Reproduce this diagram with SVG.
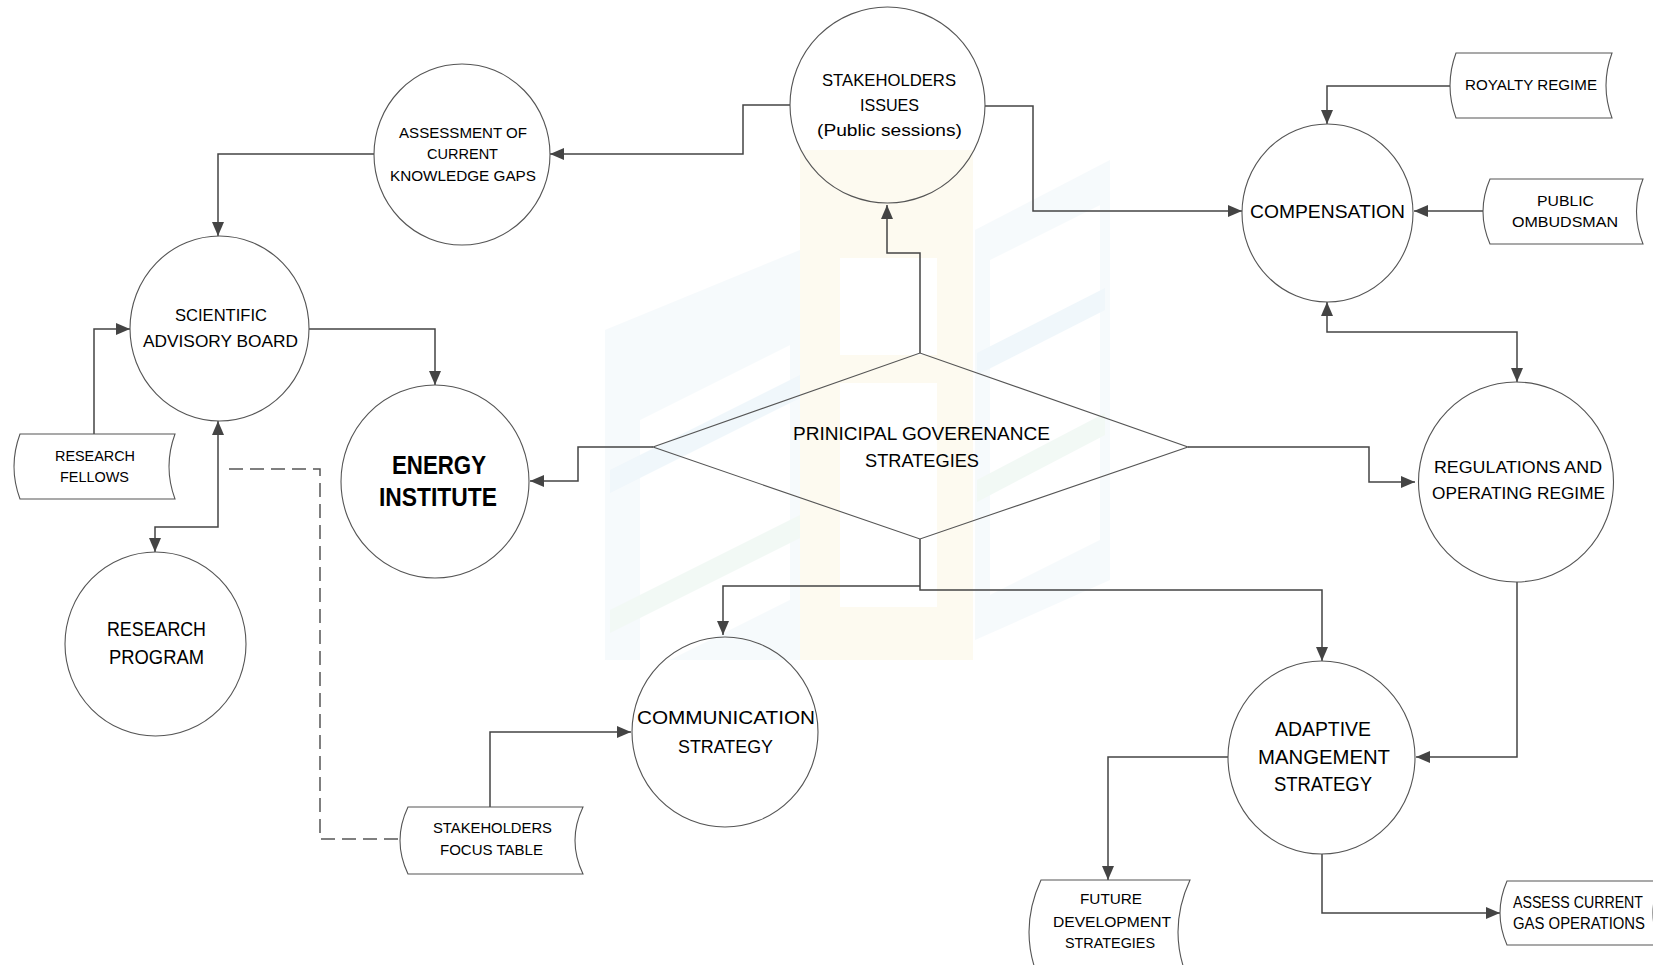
<svg xmlns="http://www.w3.org/2000/svg" width="1653" height="965" viewBox="0 0 1653 965">
<style>
.n{fill:none;stroke:#555;stroke-width:1.1}
.c{fill:none;stroke:#444;stroke-width:1.5}
.d{fill:none;stroke:#555;stroke-width:1.5;stroke-dasharray:14 7}
.t{font-family:"Liberation Sans",Arial,sans-serif;fill:#000;text-anchor:middle}
.b{font-weight:bold}
</style>
<defs>
<marker id="ah" markerUnits="userSpaceOnUse" markerWidth="14" markerHeight="12" viewBox="0 0 14 12" refX="14" refY="6" orient="auto-start-reverse">
<path d="M0,0 L14,6 L0,12 z" fill="#444"/>
</marker>
</defs>
<rect width="1653" height="965" fill="#fff"/>
<g id="watermark" opacity="0.3">
<rect x="800" y="150" width="173" height="510" fill="#fbf1cf"/>
<rect x="840" y="258" width="97" height="97" fill="#fff"/>
<rect x="840" y="383" width="97" height="224" fill="#fff"/>
<polygon points="605,330 800,250 800,660 605,660" fill="#e4eff6"/>
<polygon points="640,420 790,345 790,600 640,675" fill="#fff"/>
<polygon points="610,470 800,375 800,398 610,493" fill="#cfe6f4"/>
<polygon points="610,610 800,515 800,538 610,633" fill="#d6ecdf"/>
<polygon points="975,230 1110,160 1110,580 975,640" fill="#e4eff6"/>
<polygon points="990,260 1100,205 1100,540 990,595" fill="#fff"/>
<polygon points="977,353 1105,288 1105,310 977,375" fill="#cfe6f4"/>
<polygon points="977,480 1105,413 1105,435 977,502" fill="#d6ecdf"/>
</g>
<g id="connectors">
<path class="c" d="M790,105 H743 V154 H550" marker-end="url(#ah)"/>
<path class="c" d="M985,106 H1033 V211 H1242" marker-end="url(#ah)"/>
<path class="c" d="M374,154 H218 V236" marker-end="url(#ah)"/>
<path class="c" d="M309,329 H435 V385" marker-end="url(#ah)"/>
<path class="c" d="M94,434 V329 H130" marker-end="url(#ah)"/>
<path class="c" d="M218,421 V527 H155 V552" marker-start="url(#ah)" marker-end="url(#ah)"/>
<path class="d" d="M229,469 H320 V839 H400"/>
<path class="c" d="M920,353 V253 H887 V205" marker-end="url(#ah)"/>
<path class="c" d="M653,447 H578 V481 H530" marker-end="url(#ah)"/>
<path class="c" d="M1188,447 H1369 V482 H1415" marker-end="url(#ah)"/>
<path class="c" d="M920,586 H723 V635" marker-end="url(#ah)"/>
<path class="c" d="M920,539 V590 H1322 V661" marker-end="url(#ah)"/>
<path class="c" d="M1327,302 V332 H1517 V382" marker-start="url(#ah)" marker-end="url(#ah)"/>
<path class="c" d="M1450,86 H1327 V124" marker-end="url(#ah)"/>
<path class="c" d="M1483,211 H1414" marker-end="url(#ah)"/>
<path class="c" d="M1517,582 V757 H1416" marker-end="url(#ah)"/>
<path class="c" d="M1228,757 H1108 V880" marker-end="url(#ah)"/>
<path class="c" d="M1322,854 V913 H1500" marker-end="url(#ah)"/>
<path class="c" d="M490,807 V732 H631" marker-end="url(#ah)"/>
</g>
<g id="assessment">
<ellipse class="n" cx="462" cy="154.5" rx="88" ry="90.5"/>
<text class="t" x="463" y="138.2" font-size="14.5" textLength="128" lengthAdjust="spacingAndGlyphs">ASSESSMENT OF</text>
<text class="t" x="462.5" y="159.2" font-size="14.5" textLength="71" lengthAdjust="spacingAndGlyphs">CURRENT</text>
<text class="t" x="463" y="181.2" font-size="14.5" textLength="146" lengthAdjust="spacingAndGlyphs">KNOWLEDGE GAPS</text>
</g>
<g id="scientific">
<ellipse class="n" cx="219.5" cy="328.5" rx="89.5" ry="92.5"/>
<text class="t" x="221" y="321.1" font-size="17" textLength="92" lengthAdjust="spacingAndGlyphs">SCIENTIFIC</text>
<text class="t" x="220.5" y="347.1" font-size="17" textLength="155" lengthAdjust="spacingAndGlyphs">ADVISORY BOARD</text>
</g>
<g id="research-program">
<ellipse class="n" cx="155.5" cy="644" rx="90.5" ry="92"/>
<text class="t" x="156.5" y="635.6" font-size="21" textLength="99" lengthAdjust="spacingAndGlyphs">RESEARCH</text>
<text class="t" x="156.5" y="663.6" font-size="21" textLength="95" lengthAdjust="spacingAndGlyphs">PROGRAM</text>
</g>
<g id="energy-institute">
<ellipse class="n" cx="435" cy="481.5" rx="94" ry="96.5"/>
<text class="t b" x="439" y="474" font-size="25" textLength="94" lengthAdjust="spacingAndGlyphs">ENERGY</text>
<text class="t b" x="438" y="506" font-size="25" textLength="118" lengthAdjust="spacingAndGlyphs">INSTITUTE</text>
</g>
<g id="research-fellows">
<path class="n" d="M20,434 H175 Q163,466.5 175,499 H20 Q8,466.5 20,434 Z"/>
<text class="t" x="95" y="461.4" font-size="15" textLength="80" lengthAdjust="spacingAndGlyphs">RESEARCH</text>
<text class="t" x="94.5" y="482.4" font-size="15" textLength="69" lengthAdjust="spacingAndGlyphs">FELLOWS</text>
</g>
<g id="stakeholders-issues">
<ellipse class="n" cx="887.5" cy="105" rx="97.5" ry="98"/>
<text class="t" x="889" y="86.1" font-size="17" textLength="134" lengthAdjust="spacingAndGlyphs">STAKEHOLDERS</text>
<text class="t" x="889.5" y="111.1" font-size="17" textLength="59" lengthAdjust="spacingAndGlyphs">ISSUES</text>
<text class="t" x="889.5" y="136.1" font-size="17" textLength="145" lengthAdjust="spacingAndGlyphs">(Public sessions)</text>
</g>
<g id="compensation">
<ellipse class="n" cx="1327.5" cy="213" rx="85.5" ry="89"/>
<text class="t" x="1327.5" y="217.5" font-size="18" textLength="155" lengthAdjust="spacingAndGlyphs">COMPENSATION</text>
</g>
<g id="royalty-regime">
<path class="n" d="M1456,53 H1612 Q1600,85.5 1612,118 H1456 Q1444,85.5 1456,53 Z"/>
<text class="t" x="1531" y="90.4" font-size="15" textLength="132" lengthAdjust="spacingAndGlyphs">ROYALTY REGIME</text>
</g>
<g id="public-ombudsman">
<path class="n" d="M1490,179 H1643 Q1630,211.5 1643,244 H1490 Q1476,211.5 1490,179 Z"/>
<text class="t" x="1565.5" y="206.4" font-size="15" textLength="57" lengthAdjust="spacingAndGlyphs">PUBLIC</text>
<text class="t" x="1565" y="227.4" font-size="15" textLength="106" lengthAdjust="spacingAndGlyphs">OMBUDSMAN</text>
</g>
<g id="governance">
<polygon class="n" points="653,447 920,353 1188,447 920,539"/>
<text class="t" x="921.5" y="439.5" font-size="18" textLength="257" lengthAdjust="spacingAndGlyphs">PRINICIPAL GOVERENANCE</text>
<text class="t" x="922" y="466.5" font-size="18" textLength="114" lengthAdjust="spacingAndGlyphs">STRATEGIES</text>
</g>
<g id="regulations">
<ellipse class="n" cx="1516" cy="482" rx="97.5" ry="100"/>
<text class="t" x="1518" y="472.9" font-size="16.5" textLength="168" lengthAdjust="spacingAndGlyphs">REGULATIONS AND</text>
<text class="t" x="1518.5" y="498.9" font-size="16.5" textLength="173" lengthAdjust="spacingAndGlyphs">OPERATING REGIME</text>
</g>
<g id="communication">
<ellipse class="n" cx="725" cy="732" rx="93" ry="95"/>
<text class="t" x="726" y="723.8" font-size="19" textLength="178" lengthAdjust="spacingAndGlyphs">COMMUNICATION</text>
<text class="t" x="725.5" y="752.8" font-size="19" textLength="95" lengthAdjust="spacingAndGlyphs">STRATEGY</text>
</g>
<g id="focus-table">
<path class="n" d="M408,807 H583 Q567,840.5 583,874 H408 Q392,840.5 408,807 Z"/>
<text class="t" x="492.5" y="833.4" font-size="15" textLength="119" lengthAdjust="spacingAndGlyphs">STAKEHOLDERS</text>
<text class="t" x="491.5" y="855.4" font-size="15" textLength="103" lengthAdjust="spacingAndGlyphs">FOCUS TABLE</text>
</g>
<g id="adaptive">
<ellipse class="n" cx="1321.5" cy="757.5" rx="93.5" ry="96.5"/>
<text class="t" x="1323" y="736.2" font-size="20" textLength="96" lengthAdjust="spacingAndGlyphs">ADAPTIVE</text>
<text class="t" x="1324" y="764.2" font-size="20" textLength="132" lengthAdjust="spacingAndGlyphs">MANGEMENT</text>
<text class="t" x="1323" y="791.2" font-size="20" textLength="98" lengthAdjust="spacingAndGlyphs">STRATEGY</text>
</g>
<g id="future-development">
<path class="n" d="M1041,880 H1190 Q1166,932 1190,984 H1041 Q1017,932 1041,880 Z"/>
<text class="t" x="1111" y="904.4" font-size="15" textLength="62" lengthAdjust="spacingAndGlyphs">FUTURE</text>
<text class="t" x="1112" y="927.4" font-size="15" textLength="118" lengthAdjust="spacingAndGlyphs">DEVELOPMENT</text>
<text class="t" x="1110" y="948.4" font-size="15" textLength="90" lengthAdjust="spacingAndGlyphs">STRATEGIES</text>
</g>
<g id="assess-current">
<path class="n" d="M1507,881 H1660 Q1646,913 1660,945 H1507 Q1493,913 1507,881 Z"/>
<text class="t" x="1578" y="907.8" font-size="16" textLength="130" lengthAdjust="spacingAndGlyphs">ASSESS CURRENT</text>
<text class="t" x="1579" y="928.8" font-size="16" textLength="132" lengthAdjust="spacingAndGlyphs">GAS OPERATIONS</text>
</g>
</svg>
